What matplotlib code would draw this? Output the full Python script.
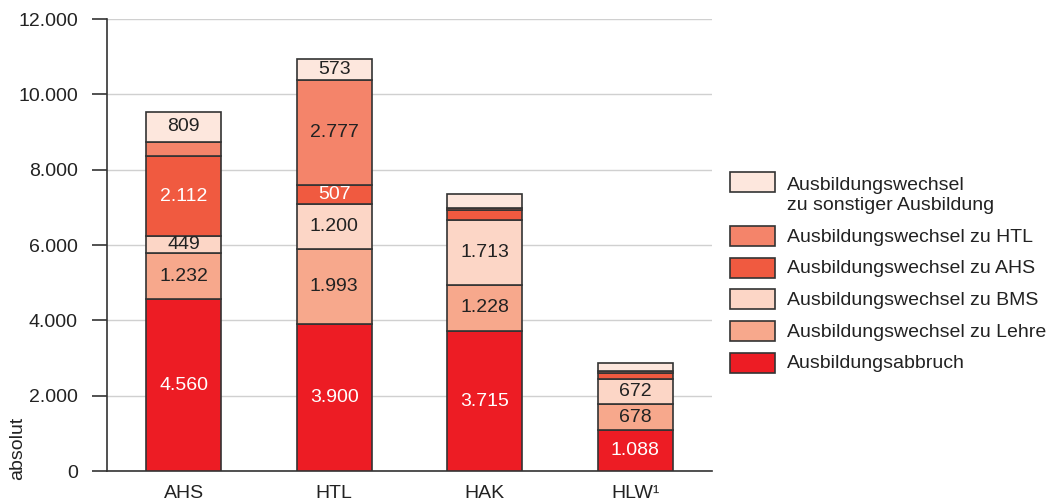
import numpy as np
import matplotlib
matplotlib.use('Agg')
import matplotlib.pyplot as plt
from matplotlib.patches import Rectangle

plt.rcParams['font.family'] = ['Liberation Sans', 'DejaVu Sans']

# data
schools = ['AHS', 'HTL', 'HAK', 'HLW¹']
abbruch = [4560, 3900, 3715, 1088]
lehre = [1232, 1993, 1228, 678]
bms = [449, 1200, 1713, 672]
ahs = [2112, 507, 270, 175]
htl = [380, 2777, 50, 50]
sonstige = [809, 573, 370, 210]

series = [abbruch, lehre, bms, ahs, htl, sonstige]
names = ['Ausbildungsabbruch', 'Ausbildungswechsel zu Lehre', 'Ausbildungswechsel zu BMS',
         'Ausbildungswechsel zu AHS', 'Ausbildungswechsel zu HTL',
         'Ausbildungswechsel\nzu sonstiger Ausbildung']
colors = ['#ED1C24', '#F7A88C', '#FCD6C6', '#F05A40', '#F4846A', '#FDE7DD']
text_colors = ['white', '#222222', '#222222', 'white', '#222222', '#222222']

W, H = 1054, 504
fig = plt.figure(figsize=(W / 100, H / 100), dpi=100)
ax = fig.add_axes([107 / W, 33 / H, 605 / W, 452 / H])

x = np.arange(len(schools))
bottom = np.zeros(len(schools))
for vals, c, tc in zip(series, colors, text_colors):
    ax.bar(x, vals, 0.5, bottom=bottom, color=c, edgecolor='#333333', linewidth=1.2, zorder=3)
    for i, v in enumerate(vals):
        if v > 440:
            ax.text(x[i], bottom[i] + v / 2, f'{v:,}'.replace(',', '.'), ha='center', va='center',
                    fontsize=14, color=tc, zorder=4)
    bottom += vals

ax.set_xlim(-0.51, 3.51)
ax.set_ylim(0, 12000)
ax.set_yticks(range(0, 12001, 2000))
ax.set_yticklabels([f'{t:,}'.replace(',', '.') for t in range(0, 12001, 2000)], fontsize=14, color='#222222')
ax.set_xticks(x)
ax.set_xticklabels(schools, fontsize=14, color='#222222')
ax.tick_params(axis='x', length=0, pad=10)
ax.tick_params(axis='y', length=11, width=1.2, color='#333333', pad=10)
ax.grid(axis='y', color='#d0d0d0', linewidth=1, zorder=0)
for s in ['top', 'right']:
    ax.spines[s].set_visible(False)
for s in ['left', 'bottom']:
    ax.spines[s].set_color('#333333')
    ax.spines[s].set_linewidth(1.2)

fig.text(18 / W, 1 - 448 / H, 'absolut', rotation=90, ha='center', va='center',
         fontsize=14, color='#222222')

# legend, drawn by hand (top entry first)
yc = 181.7
for i, (name, c) in enumerate(zip(names[::-1], colors[::-1])):
    fig.patches.append(Rectangle((730 / W, 1 - (yc + 10) / H), 45 / W, 20 / H, facecolor=c,
                                 edgecolor='#333333', linewidth=1.2, transform=fig.transFigure))
    if '\n' in name:
        fig.text(787 / W, 1 - (yc - 5) / H, name, ha='left', va='top', fontsize=14,
                 color='#222222', linespacing=1.22)
        yc += 54.3
    else:
        fig.text(787 / W, 1 - (yc + 1) / H, name, ha='left', va='center', fontsize=14,
                 color='#222222')
        yc += 31.7

fig.savefig('out.png', dpi=100)
